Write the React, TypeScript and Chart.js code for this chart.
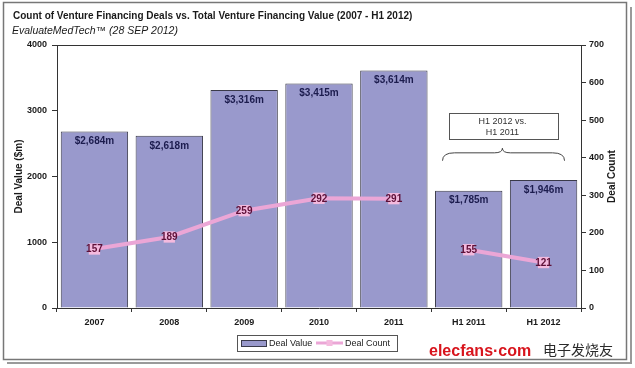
import React, { useEffect, useRef } from "react";
import { Chart, registerables } from "chart.js";

Chart.register(...registerables);

const categories = ["2007", "2008", "2009", "2010", "2011", "H1 2011", "H1 2012"];
const dealValues = [2684, 2618, 3316, 3415, 3614, 1785, 1946];
const valueLabels = ["$2,684m", "$2,618m", "$3,316m", "$3,415m", "$3,614m", "$1,785m", "$1,946m"];
const dealCounts = [157, 189, 259, 292, 291, 155, 121];
const leftAxisMax = 4000;
const leftAxisStep = 1000;
const rightAxisMax = 700;
const rightAxisStep = 100;

const titleText = "Count of Venture Financing Deals vs. Total Venture Financing Value (2007 - H1 2012)";
const subtitleText = "EvaluateMedTech\u2122 (28 SEP 2012)";
const leftTitle = "Deal Value ($m)";
const rightTitle = "Deal Count";
const legendLabels = ["Deal Value", "Deal Count"];
const noteLines = ["H1 2012 vs.", "H1 2011"];
const watermarkLatin = "elecfans\u00b7com";
const watermarkCJK = "电子发烧友";

const BAR_FILL = "#9999cc";
const BAR_BORDER = "#3a3a4a";
const LINE_COLOR = "#eba6d6";
const MARKER_COLOR = "#f4bade";
const FONT = "Arial, 'Liberation Sans', sans-serif";

const decorPlugin = {
  id: "decor",
  beforeDraw(chart: any) {
    const ctx = chart.ctx;
    ctx.save();
    ctx.fillStyle = "#ffffff";
    ctx.fillRect(0, 0, chart.width, chart.height);
    ctx.strokeStyle = "#9a9a9a";
    ctx.lineWidth = 2;
    ctx.beginPath();
    ctx.moveTo(631, 7);
    ctx.lineTo(631, 363);
    ctx.lineTo(7, 363);
    ctx.stroke();
    ctx.strokeStyle = "#777777";
    ctx.lineWidth = 1.5;
    ctx.strokeRect(3.5, 2.5, 623, 357);
    ctx.restore();
  },
  afterDatasetsDraw(chart: any) {
    const ctx = chart.ctx;
    const area = chart.chartArea;
    const x = chart.scales.x;
    const y = chart.scales.y;
    ctx.save();
    ctx.strokeStyle = "#333333";
    ctx.lineWidth = 1;
    ctx.beginPath();
    ctx.moveTo(area.left, Math.round(area.top) + 0.5);
    ctx.lineTo(area.right, Math.round(area.top) + 0.5);
    ctx.stroke();

    const barMeta = chart.getDatasetMeta(0);
    ctx.font = `bold 10px ${FONT}`;
    ctx.fillStyle = "#1c1c4e";
    ctx.textAlign = "center";
    ctx.textBaseline = "middle";
    barMeta.data.forEach((el: any, i: number) => {
      ctx.fillText(valueLabels[i], el.x, el.y + 10);
    });

    const lineMeta = chart.getDatasetMeta(1);
    ctx.fillStyle = "#5e1038";
    lineMeta.data.forEach((el: any, i: number) => {
      ctx.fillText(String(dealCounts[i]), el.x, el.y + 0.5);
    });

    const cx = x.getPixelForValue(5.45);
    const bx0 = x.getPixelForValue(4.73);
    const bx1 = x.getPixelForValue(6.18);
    const by0 = y.getPixelForValue(2960);
    const by1 = y.getPixelForValue(2560);
    ctx.fillStyle = "#ffffff";
    ctx.fillRect(bx0, by0, bx1 - bx0, by1 - by0);
    ctx.strokeStyle = "#555555";
    ctx.lineWidth = 1;
    ctx.strokeRect(Math.round(bx0) + 0.5, Math.round(by0) + 0.5, Math.round(bx1 - bx0), Math.round(by1 - by0));
    ctx.fillStyle = "#333333";
    ctx.font = `9px ${FONT}`;
    const mid = (by0 + by1) / 2;
    ctx.fillText(noteLines[0], cx, mid - 5);
    ctx.fillText(noteLines[1], cx, mid + 6);

    const rx0 = x.getPixelForValue(4.65);
    const rx1 = x.getPixelForValue(6.28);
    const yt = y.getPixelForValue(2430);
    const ym = y.getPixelForValue(2360);
    const yb = y.getPixelForValue(2240);
    ctx.strokeStyle = "#444444";
    ctx.lineWidth = 1;
    ctx.beginPath();
    ctx.moveTo(rx0, yb);
    ctx.quadraticCurveTo(rx0, ym, rx0 + 12, ym);
    ctx.lineTo(cx - 8, ym);
    ctx.quadraticCurveTo(cx, ym, cx, yt);
    ctx.quadraticCurveTo(cx, ym, cx + 8, ym);
    ctx.lineTo(rx1 - 12, ym);
    ctx.quadraticCurveTo(rx1, ym, rx1, yb);
    ctx.stroke();
    ctx.restore();
  },
  afterDraw(chart: any) {
    const ctx = chart.ctx;
    const area = chart.chartArea;
    ctx.save();
    ctx.fillStyle = "#1a1a1a";
    ctx.textAlign = "left";
    ctx.textBaseline = "middle";
    ctx.font = `bold 10px ${FONT}`;
    ctx.fillText(titleText, 13, 16);
    ctx.font = `italic 10.5px ${FONT}`;
    ctx.fillText(subtitleText, 12, 31);

    const midY = (area.top + area.bottom) / 2;
    ctx.font = `bold 10px ${FONT}`;
    ctx.textAlign = "center";
    ctx.save();
    ctx.translate(19, midY);
    ctx.rotate(-Math.PI / 2);
    ctx.fillText(leftTitle, 0, 0);
    ctx.restore();
    ctx.save();
    ctx.translate(612, midY);
    ctx.rotate(-Math.PI / 2);
    ctx.fillText(rightTitle, 0, 0);
    ctx.restore();

    const lx0 = 237, lx1 = 397, ly0 = 335, ly1 = 351;
    const ly = (ly0 + ly1) / 2;
    ctx.fillStyle = "#ffffff";
    ctx.fillRect(lx0, ly0, lx1 - lx0, ly1 - ly0);
    ctx.strokeStyle = "#555555";
    ctx.lineWidth = 1;
    ctx.strokeRect(lx0 + 0.5, ly0 + 0.5, lx1 - lx0, ly1 - ly0);
    ctx.fillStyle = BAR_FILL;
    ctx.fillRect(241, ly - 3, 25, 6);
    ctx.strokeStyle = BAR_BORDER;
    ctx.strokeRect(241.5, ly - 3 + 0.5, 25, 6);
    ctx.fillStyle = "#222222";
    ctx.textAlign = "left";
    ctx.font = `9px ${FONT}`;
    ctx.fillText(legendLabels[0], 269, ly + 0.5);
    ctx.strokeStyle = LINE_COLOR;
    ctx.lineWidth = 3;
    ctx.beginPath();
    ctx.moveTo(316, ly);
    ctx.lineTo(343, ly);
    ctx.stroke();
    ctx.fillStyle = MARKER_COLOR;
    ctx.fillRect(326.5, ly - 3, 6, 6);
    ctx.fillStyle = "#222222";
    ctx.fillText(legendLabels[1], 345, ly + 0.5);

    ctx.textBaseline = "alphabetic";
    ctx.fillStyle = "#d8141c";
    ctx.font = `bold 16px ${FONT}`;
    ctx.fillText(watermarkLatin, 429, 356);
    ctx.fillStyle = "#2a2a2a";
    ctx.font = `14px 'Noto Sans CJK SC', sans-serif`;
    ctx.fillText(watermarkCJK, 543, 355);
    ctx.restore();
  },
};

export default function App() {
  const canvasRef = useRef<HTMLCanvasElement | null>(null);

  useEffect(() => {
    const canvas = canvasRef.current;
    if (!canvas) return;
    const tickFont = { family: FONT, size: 9, weight: "bold" };
    const chart = new Chart(canvas, {
      type: "bar",
      data: {
        labels: categories,
        datasets: [
          {
            type: "bar",
            label: legendLabels[0],
            data: dealValues,
            yAxisID: "y",
            backgroundColor: BAR_FILL,
            borderColor: BAR_BORDER,
            borderWidth: 1,
            barPercentage: 0.9,
            categoryPercentage: 1.0,
            order: 2,
          },
          {
            type: "line",
            label: legendLabels[1],
            data: dealCounts,
            yAxisID: "y1",
            borderColor: LINE_COLOR,
            borderWidth: 4,
            backgroundColor: MARKER_COLOR,
            pointStyle: "rect",
            pointRadius: 8,
            pointBorderWidth: 0,
            pointBackgroundColor: MARKER_COLOR,
            tension: 0,
            order: 1,
            segment: {
              borderColor: (c: any) => (c.p0DataIndex === 4 ? "rgba(0,0,0,0)" : LINE_COLOR),
            },
          },
        ],
      } as any,
      options: {
        responsive: false,
        animation: false,
        layout: { padding: { left: 10, right: 10, top: 45, bottom: 35 } },
        plugins: {
          legend: { display: false },
          tooltip: { enabled: false },
          title: { display: false },
        },
        scales: {
          x: {
            grid: { drawOnChartArea: false, drawTicks: true, tickLength: 4, color: "#333333", offset: true },
            border: { display: true, color: "#333333" },
            ticks: { color: "#1a1a1a", font: tickFont, padding: 5, maxRotation: 0, autoSkip: false },
            afterFit(scale: any) {
              scale.height = 25;
            },
          },
          y: {
            position: "left",
            min: 0,
            max: leftAxisMax,
            grid: { drawOnChartArea: false, drawTicks: true, tickLength: 5, color: "#333333" },
            border: { display: true, color: "#333333" },
            ticks: {
              stepSize: leftAxisStep,
              color: "#1a1a1a",
              font: tickFont,
              padding: 5,
              callback: (v: any) => String(v),
            },
            afterFit(scale: any) {
              scale.width = 47;
            },
          },
          y1: {
            position: "right",
            min: 0,
            max: rightAxisMax,
            grid: { drawOnChartArea: false, drawTicks: true, tickLength: 5, color: "#333333" },
            border: { display: true, color: "#333333" },
            ticks: {
              stepSize: rightAxisStep,
              color: "#1a1a1a",
              font: tickFont,
              padding: 3,
              callback: (v: any) => String(v),
            },
            afterFit(scale: any) {
              scale.width = 44;
            },
          },
        },
      } as any,
      plugins: [decorPlugin],
    });
    return () => chart.destroy();
  }, []);

  return (
    <div style={{ position: "fixed", left: 0, top: 0, width: 635, height: 368, background: "#fff" }}>
      <canvas ref={canvasRef} width={635} height={368} style={{ display: "block", width: 635, height: 368 }} />
    </div>
  );
}
